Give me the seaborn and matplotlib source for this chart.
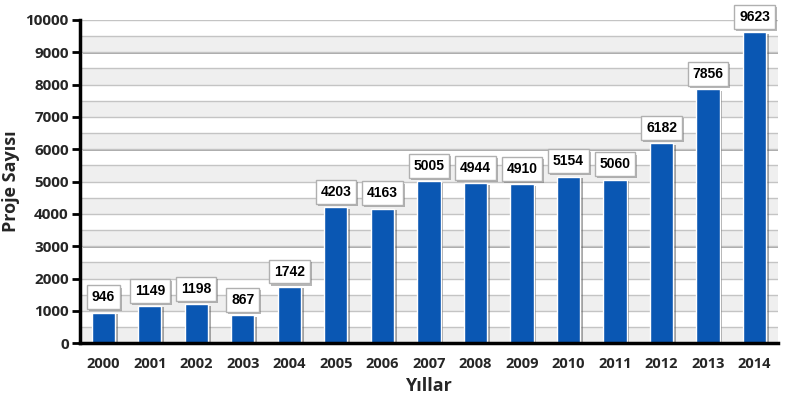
import matplotlib
matplotlib.use("Agg")
import matplotlib.pyplot as plt
import matplotlib.patheffects as pe
import numpy as np
import pandas as pd
import seaborn as sns

years = ["2000", "2001", "2002", "2003", "2004", "2005", "2006", "2007",
         "2008", "2009", "2010", "2011", "2012", "2013", "2014"]
projects = [946, 1149, 1198, 867, 1742, 4203, 4163, 5005,
            4944, 4910, 5154, 5060, 6182, 7856, 9623]
yticks = [0, 1000, 2000, 3000, 4000, 5000, 6000, 7000, 8000, 9000, 10000]

df = pd.DataFrame({"Yıl": years, "Proje": projects})

sns.set_theme(style="white")
plt.rcParams["font.family"] = ["Open Sans", "DejaVu Sans"]

fig = plt.figure(figsize=(8.03, 4.08), dpi=100)
ax = fig.add_axes([0.0996, 0.159, 0.869, 0.792])

# alternating bands and grid lines
for lo in range(0, 10000, 1000):
    ax.axhspan(lo, lo + 500, color="#efefef", zorder=0, lw=0)
for g in range(0, 10001, 500):
    ax.axhline(g, color="#c4c4c4", lw=1.0, zorder=0.5)

sns.barplot(data=df, x="Yıl", y="Proje", color="#0a57b3", saturation=1,
            width=0.5, ax=ax, zorder=2)
for p in ax.patches:
    p.set_path_effects([pe.SimplePatchShadow(offset=(2, -1), shadow_rgbFace="#555555", alpha=0.5),
                        pe.Normal()])

for i, v in enumerate(projects):
    ax.annotate(str(v), xy=(i, v), xytext=(0, 11), textcoords="offset points",
                ha="center", va="center", fontsize=10, fontweight="bold",
                family=["Liberation Sans", "DejaVu Sans"], color="black", zorder=5,
                bbox=dict(boxstyle="square,pad=0.35", fc="white", ec="#b0b0b0", lw=1,
                          path_effects=[pe.SimplePatchShadow(offset=(1.5, -1.5), alpha=0.4), pe.Normal()]))

ax.set_xlim(-0.5, len(years) - 0.5)
ax.set_ylim(0, 10000)
ax.set_yticks(yticks)
ax.set_yticklabels([str(t) for t in yticks], fontsize=11, fontweight="bold")
ax.set_xticks(range(len(years)))
ax.set_xticklabels(years, fontsize=10.5, fontweight="bold")
ax.set_xticks(np.arange(-0.5, len(years), 1.0), minor=True)
ax.tick_params(axis="x", which="major", length=0, pad=10)
ax.tick_params(axis="x", which="minor", length=6, width=2, color="black", direction="out")
ax.tick_params(axis="y", which="major", length=6, width=2, color="black", direction="out", pad=2)
ax.tick_params(left=True, bottom=True)

for s in ["top", "right"]:
    ax.spines[s].set_visible(False)
for s in ["left", "bottom"]:
    ax.spines[s].set_color("black")
    ax.spines[s].set_linewidth(2.5)
    ax.spines[s].set_zorder(6)

ax.set_xlabel("Yıllar", fontsize=13, fontweight="bold", labelpad=4)
ax.set_ylabel("Proje Sayısı", fontsize=13, fontweight="bold", labelpad=4)

fig.savefig("out.png", dpi=100, facecolor="white")
